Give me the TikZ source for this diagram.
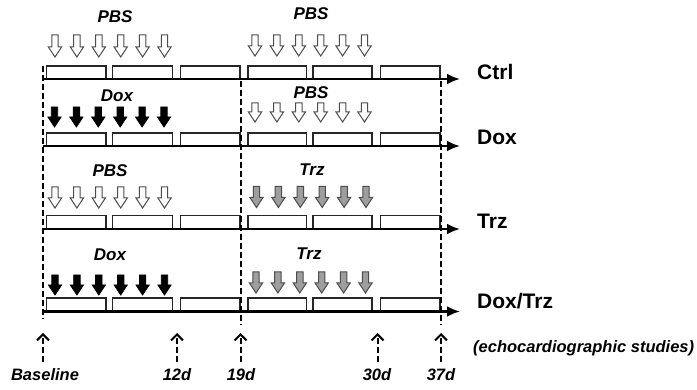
\documentclass[tikz,border=0pt]{standalone}
\usepackage{fontspec}
\setmainfont{Liberation Sans}
\usetikzlibrary{arrows.meta}
\tikzset{
  axisline/.style={line width=2.8pt,-{Latex[length=13pt,width=11pt]}},
  boxline/.style={line width=1.4pt,draw=black!85},
  vdash/.style={line width=2pt,dash pattern=on 6pt off 3pt},
  timearr/.style={line width=2pt,dash pattern=on 6pt off 3pt,-{Straight Barb[length=6pt,width=12pt,line width=2pt]}},
  openarr/.style={draw=black!70,fill=white,line width=1pt},
  blackarr/.style={draw=black,fill=black,line width=0.8pt},
  grayarr/.style={draw=black!70,fill=black!38,line width=1pt},
  toplab/.style={font=\fontsize{17}{17}\selectfont\bfseries\itshape,inner sep=0pt},
  rowlab/.style={font=\fontsize{21}{21}\selectfont\bfseries,inner sep=0pt,anchor=west},
  botlab/.style={font=\fontsize{16.5}{16.5}\selectfont\bfseries\itshape,inner sep=0pt}
}
% block arrow: x, top, tip, style
\newcommand\blockarr[4]{%
  \pgfmathsetmacro\bh{#3-10}%
  \draw[#4] (#1-3.2,#2) -- (#1+3.2,#2) -- (#1+3.2,\bh) -- (#1+6.6,\bh) -- (#1,#3) -- (#1-6.6,\bh) -- (#1-3.2,\bh) -- cycle;}
% six arrows: first x, top, tip, style
\newcommand\sixarr[4]{%
  \foreach \k in {0,...,5}{\pgfmathsetmacro\xx{#1+21.9*\k}\blockarr{\xx}{#2}{#3}{#4}}}
% boxes on an axis: axis y, top y
\newcommand\rowboxes[2]{%
  \foreach \a/\b in {46.7/106,112.5/172.7,180.7/240,248/306.7,313/372,380.7/440}{%
    \draw[boxline] (\a,#1) -- (\a,#2) -- (\b,#2) -- (\b,#1);}}
\begin{document}
\begin{tikzpicture}[x=1pt,y=-1pt]
\useasboundingbox (0,0) rectangle (697,390);
\fill[white] (0,0) rectangle (697,390);

% axis coordinates
\foreach \n/\y in {ctrl/79,dox/146,trz/229,dt/311.5}{
  \coordinate (\n s) at (43,\y);
  \coordinate (\n e) at (460,\y);
}

% boxes
\rowboxes{79}{66}
\rowboxes{146}{133}
\rowboxes{229}{215.5}
\rowboxes{311.5}{298}

% axes
\draw[axisline] (ctrls) -- (ctrle);
\draw[axisline] (doxs) -- (doxe);
\draw[axisline] (trzs) -- (trze);
\draw[axisline] (dts) -- (dte);

% vertical dashed lines
\coordinate (v0t) at (43,66);   \coordinate (v0b) at (43,319);
\coordinate (v1t) at (240.5,81); \coordinate (v1b) at (240.5,325);
\coordinate (v2t) at (441,81);  \coordinate (v2b) at (441,325);
\draw[vdash] (v0t) -- (v0b);
\draw[vdash] (v1t) -- (v1b);
\draw[vdash] (v2t) -- (v2b);

% treatment arrows
\sixarr{55}{35}{57}{openarr}
\sixarr{255}{35}{56}{openarr}
\sixarr{54.5}{107}{127}{blackarr}
\sixarr{255}{103}{122}{openarr}
\sixarr{55}{187}{208}{openarr}
\sixarr{256.5}{186.5}{207.5}{grayarr}
\sixarr{55}{275}{295}{blackarr}
\sixarr{256}{272}{293}{grayarr}

% treatment labels
\node[toplab] (l1) at (115,17) {PBS};
\node[toplab] (l2) at (311,14) {PBS};
\node[toplab] (l3) at (117,96) {Dox};
\node[toplab] (l4) at (311,93) {PBS};
\node[toplab] (l5) at (110,171) {PBS};
\node[toplab] (l6) at (312,170) {Trz};
\node[toplab] (l7) at (110,255) {Dox};
\node[toplab] (l8) at (309,254) {Trz};

% row labels
\node[rowlab] (rctrl) at (477,71.5) {Ctrl};
\node[rowlab] (rdox) at (477,137) {Dox};
\node[rowlab] (rtrz) at (477,221) {Trz};
\node[rowlab] (rdt) at (477,301) {Dox/Trz};

% time point arrows
\foreach \n/\x in {ta/43,tb/177,tc/240.5,td/377.5,te/441}{
  \coordinate (\n b) at (\x,362);
  \coordinate (\n t) at (\x,333);
  \draw[timearr] (\n b) -- (\n t);
}

% time labels
\node[botlab] (bl) at (45,375) {Baseline};
\node[botlab] (b12) at (177,375) {12d};
\node[botlab] (b19) at (241,375) {19d};
\node[botlab] (b30) at (377,375) {30d};
\node[botlab] (b37) at (441,375) {37d};
\node[botlab,anchor=west] (echo) at (473,348) {(echocardiographic studies)};
\end{tikzpicture}
\end{document}
